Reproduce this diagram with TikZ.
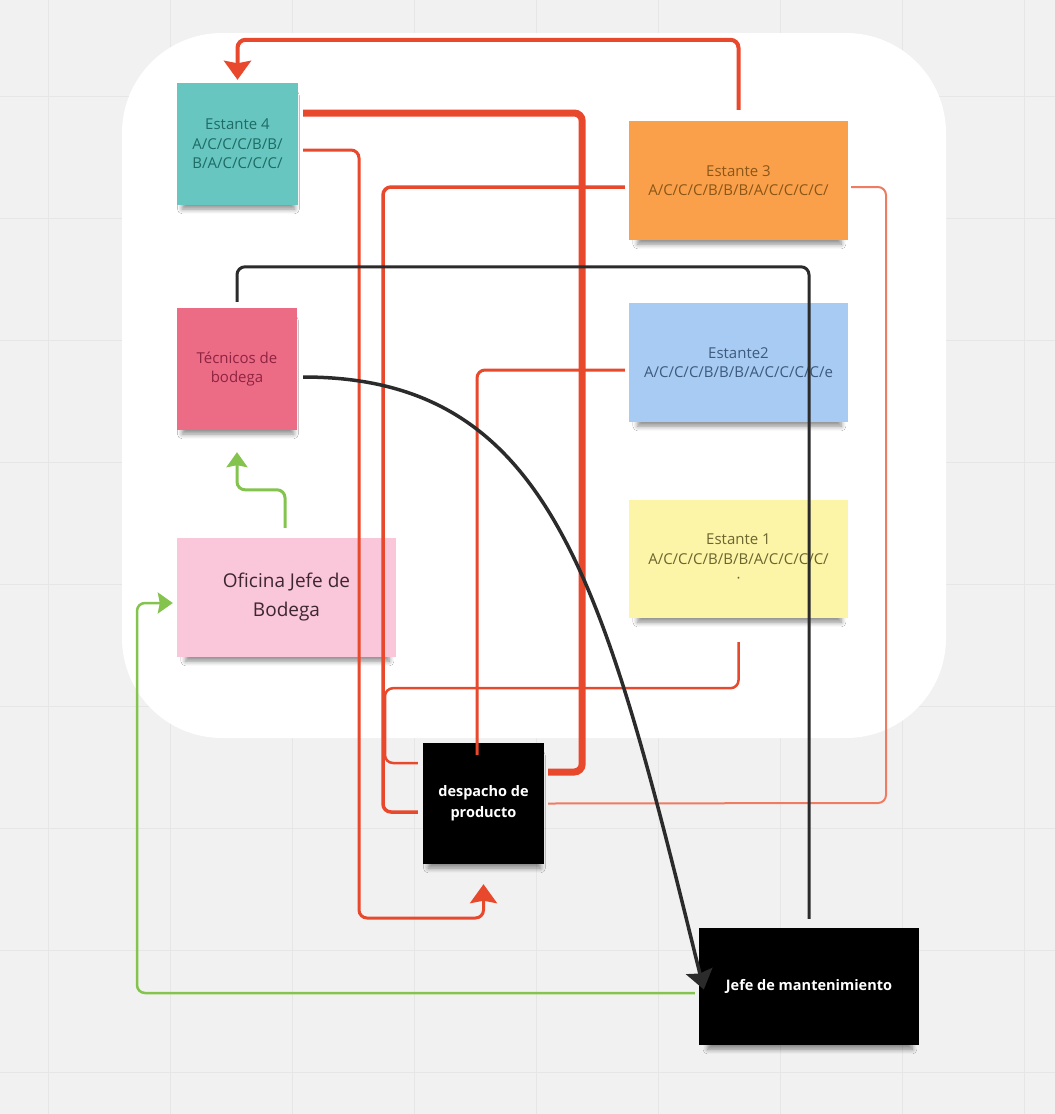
\documentclass[tikz,border=0pt]{standalone}
\usepackage{fontspec}
\setmainfont{Open Sans}
\usetikzlibrary{arrows.meta,shadows,shadows.blur,calc}
\definecolor{bg}{HTML}{F1F1F1}
\definecolor{gridc}{HTML}{E6E6E6}
\definecolor{tealf}{HTML}{67C6C0}
\definecolor{tealt}{HTML}{1E6B66}
\definecolor{orangef}{HTML}{FBA04A}
\definecolor{oranget}{HTML}{8A5718}
\definecolor{redf}{HTML}{EC6C86}
\definecolor{redt}{HTML}{8E2442}
\definecolor{bluef}{HTML}{A7CBF2}
\definecolor{bluet}{HTML}{3E5A7E}
\definecolor{yellowf}{HTML}{FCF4A6}
\definecolor{yellowt}{HTML}{6B6530}
\definecolor{pinkf}{HTML}{FAC6D9}
\definecolor{pinkt}{HTML}{3D2631}
\definecolor{linered}{HTML}{E8482B}
\definecolor{linesalmon}{HTML}{EE7C62}
\definecolor{linegreen}{HTML}{84C44E}
\definecolor{lineblack}{HTML}{2B2B2B}
\begin{document}
\begin{tikzpicture}[x=1pt,y=-1pt,
  note/.style={rectangle, inner sep=2pt, align=center,
    font=\fontsize{15}{19.5}\selectfont,
    blur shadow={shadow xshift=1pt, shadow yshift=-9pt, shadow scale=0.93, shadow blur steps=6, shadow blur radius=5pt, shadow opacity=45}},
  darknote/.style={note, fill=black, text=white, font=\fontsize{14.5}{21}\selectfont\bfseries},
  gridline/.style={draw=gridc, line width=1pt},
  con/.style={rounded corners=8pt},
  bigarrow/.style={-{Stealth[length=19pt,width=27pt,inset=2.5pt]}},
  smallarrow/.style={-{Stealth[length=15pt,width=21pt,inset=2pt]}}
]
\useasboundingbox (0,0) rectangle (1055,1114);
\fill[bg] (0,0) rectangle (1055,1114);
\foreach \x in {48,170,...,1030} \draw[gridline] (\x,0) -- (\x,1114);
\foreach \y in {96,218,...,1110} \draw[gridline] (0,\y) -- (1055,\y);
\fill[white, rounded corners=100pt] (122,33) rectangle (946,738);

% nodes
\node[note, fill=tealf, text=tealt, minimum width=121pt, minimum height=122pt] (e4) at (237.5,144) {Estante 4\\A/C/C/C/B/B/\\B/A/C/C/C/C/};
\node[note, fill=orangef, text=oranget, minimum width=219pt, minimum height=119pt] (e3) at (738.5,180.5) {Estante 3\\A/C/C/C/B/B/B/A/C/C/C/C/};
\node[note, fill=redf, text=redt, minimum width=120pt, minimum height=122pt] (tec) at (237,369) {Técnicos de\\bodega};
\node[note, fill=bluef, text=bluet, minimum width=219pt, minimum height=119pt] (e2) at (738.5,362.5) {Estante2\\A/C/C/C/B/B/B/A/C/C/C/C/e};
\node[note, fill=yellowf, text=yellowt, minimum width=219pt, minimum height=118pt] (e1) at (738.5,559) {Estante 1\\A/C/C/C/B/B/B/A/C/C/C/C/\\·};
\node[note, fill=pinkf, text=pinkt, minimum width=219pt, minimum height=119pt, font=\fontsize{19}{29}\selectfont] (of) at (286.5,597.5) {Oficina Jefe de\\Bodega};
\node[darknote, minimum width=121pt, minimum height=121pt] (dp) at (483.5,803.5) {despacho de\\producto};
\node[darknote, minimum width=220pt, minimum height=117pt] (jm) at (809,986.5) {Jefe de mantenimiento};

% red connectors
\draw[con, draw=linered, line width=4pt, bigarrow, shorten >=3pt]
  ([yshift=11pt]e3.north) -- ++(0,-70) -| (e4.north);
\draw[con, draw=linered, line width=7pt]
  ([shift={(5pt,31pt)}]e4.east) -| ([shift={(38pt,31.5pt)}]dp.east) -- ([shift={(4pt,31.5pt)}]dp.east);
\draw[con, draw=linered, line width=3pt, bigarrow, shorten >=20pt]
  ([shift={(5pt,-6pt)}]e4.east) -| (359,918) -| (dp.south);
\draw[con, draw=linered, line width=3.5pt]
  ([shift={(-4pt,-6.5pt)}]e3.west) -| (383,812) -- ([shift={(-5pt,-8.5pt)}]dp.west);
\draw[con, draw=linered, line width=2.5pt]
  ([yshift=-24pt]e1.south) -- ++(0,46) -| (385,763) -- ([shift={(-5pt,40.5pt)}]dp.west);
\draw[con, draw=linered, line width=3pt]
  ([shift={(-4pt,-7.5pt)}]e2.west) -| ([shift={(-6.5pt,-12pt)}]dp.north);
\draw[con, draw=linesalmon, line width=2pt]
  ([shift={(3pt,-6.5pt)}]e3.east) -| (886,803) -- ([xshift=4pt]dp.east);

% black connectors
\draw[con, draw=lineblack, line width=3pt]
  ([yshift=6pt]tec.north) -- ++(0,-35) -| ([yshift=9pt]jm.north);
\draw[draw=lineblack, line width=3.5pt, bigarrow]
  ([shift={(6pt,-8pt)}]tec.east) .. controls (553,377) and (604,585) .. ([shift={(5pt,-3pt)}]jm.west);

% green connectors
\draw[con, draw=linegreen, line width=2.5pt, smallarrow]
  ([shift={(-4pt,-6.5pt)}]jm.west) -| (137,603) -- ([shift={(-4pt,-5.5pt)}]of.west);
\draw[con, draw=linegreen, line width=3pt, smallarrow]
  ([shift={(-1.5pt,10pt)}]of.north) -- ++(0,-38) -| ([yshift=-22pt]tec.south);
\end{tikzpicture}
\end{document}
